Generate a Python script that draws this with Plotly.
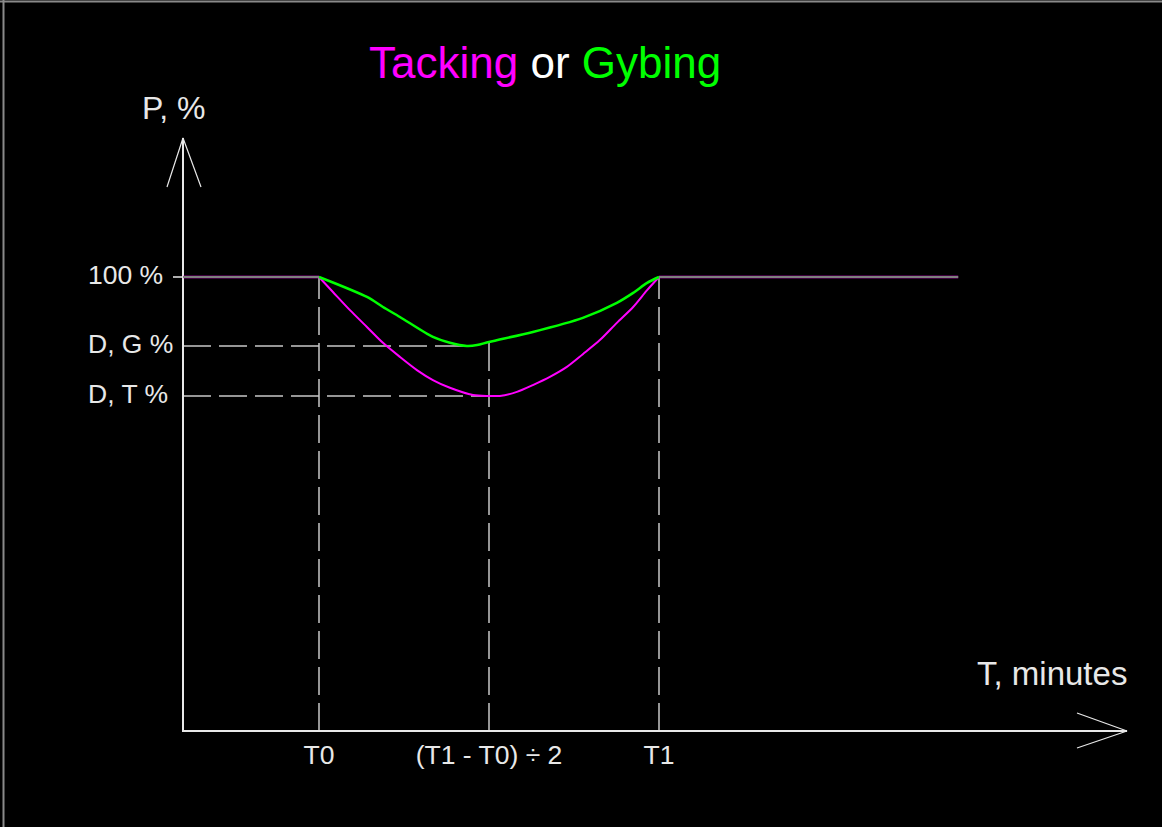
import plotly.graph_objects as go

# ---------------- data ----------------
T0 = 4.0
T1 = 14.0
T_MID = (T0 + T1) / 2
T_END = 22.8
FULL = 100.0

# Tacking (magenta) dip between T0 and T1
tack_x = [4.0, 4.41, 4.91, 5.41, 5.88, 6.38, 6.88, 7.35, 7.85, 8.53, 9.0, 9.32, 9.82, 10.29, 10.79, 11.29, 11.76, 12.26, 12.76, 13.24, 13.65, 14.0]
tack_y = [100.0, 96.7, 92.7, 89.0, 85.5, 82.4, 79.5, 77.3, 75.6, 74.0, 73.8, 73.8, 74.7, 76.2, 78.0, 80.2, 83.0, 86.1, 89.9, 93.4, 97.1, 100.0]

# Gybing (green) dip between T0 and T1
gybe_x = [4.0, 5.41, 5.88, 6.38, 7.35, 7.85, 8.35, 8.65, 9.0, 10.29, 11.76, 12.76, 13.24, 13.65, 14.0]
gybe_y = [100.0, 95.6, 93.4, 91.2, 86.8, 85.5, 84.8, 85.0, 85.7, 87.9, 91.0, 94.3, 96.5, 98.7, 100.0]

D_G = min(gybe_y)
D_T = min(tack_y)
MID_TOP = gybe_y[gybe_x.index(T_MID)]

y_tick_vals = [FULL, D_G, D_T]
y_tick_text = ["100 %", "D, G %", "D, T %"]
x_tick_vals = [T0, T_MID, T1]
x_tick_text = ["T0", "(T1 - T0) ÷ 2", "T1"]

title_parts = ["Tacking", " or ", "Gybing"]
x_title = "T, minutes"
y_title = "P, %"

# ---------------- styling / geometry ----------------
W, H = 1162, 827
ORIGIN_PX = (183, 731)   # pixel position of the (0, 0) corner
PX_X = 34.0              # pixels per x unit
PX_Y = 4.54              # pixels per y unit

def ux(px):   # horizontal pixel offset -> x units
    return px / PX_X

def uy(py):   # vertical pixel offset -> y units
    return py / PX_Y

X_RANGE = [-ux(ORIGIN_PX[0]), ux(W - ORIGIN_PX[0])]
Y_RANGE = [-uy(H - ORIGIN_PX[1]), uy(ORIGIN_PX[1])]
X_TIP = ux(1127 - ORIGIN_PX[0])
Y_TIP = uy(ORIGIN_PX[1] - 138)

MAGENTA = "#ff00ff"
GREEN = "#00ff00"
AXIS = "#e8e8e8"
GUIDE = "#c8c8c8"
FONT = "Liberation Sans, Arial, sans-serif"
DASH = "28px,8px"
TICK_SIZE = 26.5

fig = go.Figure()

def line(xs, ys, color, width, dash=None):
    fig.add_trace(go.Scatter(x=xs, y=ys, mode="lines", hoverinfo="skip", showlegend=False,
                             line=dict(color=color, width=width, dash=dash)))

# dashed guide lines
line([T0, T0], [0, FULL], GUIDE, 1.5, DASH)
line([T1, T1], [0, FULL], GUIDE, 1.5, DASH)
line([T_MID, T_MID], [0, MID_TOP], GUIDE, 1.5, DASH)
line([0, gybe_x[gybe_y.index(D_G)]], [D_G, D_G], GUIDE, 1.5, DASH)
line([0, tack_x[tack_y.index(D_T)]], [D_T, D_T], GUIDE, 1.5, DASH)

# axes with arrow heads, and the 100 % tick
line([0, 0, X_TIP], [Y_TIP, 0, 0], AXIS, 2)
line([-ux(16), 0, ux(18)], [Y_TIP - uy(49), Y_TIP, Y_TIP - uy(49)], AXIS, 1.2)
line([X_TIP - ux(50), X_TIP, X_TIP - ux(50)], [uy(18), 0, -uy(17)], AXIS, 1.2)
line([-ux(10), 0], [FULL, FULL], AXIS, 1.5)

# flat parts (100 %)
flat_x = [0, T0, None, T1, T_END]
flat_y = [FULL, FULL, None, FULL, FULL]
line(flat_x, flat_y, MAGENTA, 2.5)
line(flat_x, flat_y, GREEN, 1.2)

# dips
fig.add_trace(go.Scatter(x=tack_x, y=tack_y, mode="lines", name="Tacking", hoverinfo="skip",
                         line=dict(color=MAGENTA, width=2, shape="spline", smoothing=0.8),
                         showlegend=False))
fig.add_trace(go.Scatter(x=gybe_x, y=gybe_y, mode="lines", name="Gybing", hoverinfo="skip",
                         line=dict(color=GREEN, width=2.5, shape="spline", smoothing=0.8),
                         showlegend=False))

# tick labels
fig.add_trace(go.Scatter(x=[-ux(95)] * len(y_tick_vals), y=y_tick_vals, mode="text",
                         text=y_tick_text, textposition="middle right",
                         textfont=dict(family=FONT, size=TICK_SIZE, color=AXIS),
                         showlegend=False, hoverinfo="skip"))
fig.add_trace(go.Scatter(x=x_tick_vals, y=[-uy(26)] * len(x_tick_vals), mode="text",
                         text=x_tick_text, textposition="middle center",
                         textfont=dict(family=FONT, size=TICK_SIZE, color=AXIS),
                         showlegend=False, hoverinfo="skip"))

title_html = (f'<span style="color:{MAGENTA}">{title_parts[0]}</span>'
              f'<span style="color:#ffffff">{title_parts[1]}</span>'
              f'<span style="color:{GREEN}">{title_parts[2]}</span>')

def dx(px):
    return ux(px - ORIGIN_PX[0])

def dy(py):
    return uy(ORIGIN_PX[1] - py)

annotations = [
    dict(text=title_html, x=dx(545), y=dy(62), xref="x", yref="y",
         showarrow=False, xanchor="center", yanchor="middle",
         font=dict(family=FONT, size=44, color="#ffffff")),
    dict(text=y_title, x=dx(173), y=dy(108), xref="x", yref="y",
         showarrow=False, xanchor="center", yanchor="middle",
         font=dict(family=FONT, size=32, color=AXIS)),
    dict(text=x_title, x=dx(1052), y=dy(673), xref="x", yref="y",
         showarrow=False, xanchor="center", yanchor="middle",
         font=dict(family=FONT, size=33, color=AXIS)),
]

shapes = [
    dict(type="line", xref="paper", yref="paper", x0=0, x1=1, y0=1 - 1.5 / H, y1=1 - 1.5 / H,
         line=dict(color="#8a8a8a", width=2)),
    dict(type="line", xref="paper", yref="paper", x0=3.5 / W, x1=3.5 / W, y0=0, y1=1,
         line=dict(color="#8a8a8a", width=2)),
]

fig.update_layout(
    width=W, height=H,
    margin=dict(l=0, r=0, t=0, b=0, pad=0),
    paper_bgcolor="#000000", plot_bgcolor="#000000",
    showlegend=False,
    annotations=annotations,
    shapes=shapes,
    xaxis=dict(range=X_RANGE, visible=False, fixedrange=True),
    yaxis=dict(range=Y_RANGE, visible=False, fixedrange=True),
)

fig.write_html("out.html", config={"displayModeBar": False},
               post_script="document.body.style.margin='0';document.body.style.background='#000';")
